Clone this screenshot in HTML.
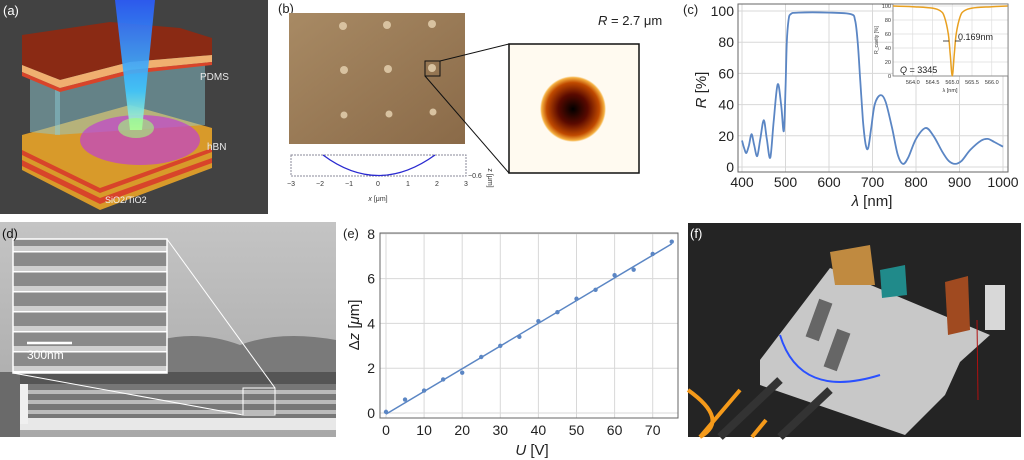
<!DOCTYPE html>
<html><head><meta charset="utf-8">
<style>
html,body{margin:0;padding:0;background:#fff;}
svg{display:block;font-family:"Liberation Sans",sans-serif;}
</style></head>
<body>
<svg id="fig" width="1024" height="460" viewBox="0 0 1024 460">
<defs>
<linearGradient id="photoB" x1="0" y1="0" x2="1" y2="1"><stop offset="0" stop-color="#a88a64"/><stop offset="1" stop-color="#8a6a48"/></linearGradient>
<radialGradient id="spot"><stop offset="0" stop-color="#000"/><stop offset="0.45" stop-color="#5a0a00"/><stop offset="0.8" stop-color="#c04a00"/><stop offset="0.95" stop-color="#f5b040"/><stop offset="1" stop-color="#fffaf0"/></radialGradient>
<linearGradient id="beam" x1="0" y1="0" x2="0" y2="1"><stop offset="0" stop-color="#2a5cff"/><stop offset="0.7" stop-color="#40c8ff"/><stop offset="1" stop-color="#c0ffc0"/></linearGradient>
<linearGradient id="semTop" x1="0" y1="0" x2="0" y2="1"><stop offset="0" stop-color="#c4c4c4"/><stop offset="1" stop-color="#a8a8a8"/></linearGradient>
<pattern id="stripes" width="10" height="10" patternUnits="userSpaceOnUse"><rect width="10" height="10" fill="#777"/><rect y="0" width="10" height="4" fill="#bbb"/></pattern>
<pattern id="stripes2" width="10" height="20" patternUnits="userSpaceOnUse"><rect width="10" height="20" fill="#8a8a8a"/><rect y="6" width="10" height="6" fill="#cfcfcf"/><rect y="11" width="10" height="1.5" fill="#fff"/></pattern>
</defs>

<!-- Panel a -->
<g>
<rect x="0" y="0" width="268" height="214" fill="#424242"/>
<polygon points="22,135 130,105 212,128 212,168 100,210 22,170" fill="#d89a2a"/>
<polygon points="22,160 100,198 212,158 212,163 100,204 22,166" fill="#d8442a"/>
<polygon points="22,150 100,188 212,148 212,152 100,193 22,155" fill="#d8442a"/>
<polygon points="30,75 60,78 60,135 30,132" fill="#8ec8d0" opacity="0.5"/>
<polygon points="55,70 205,40 205,125 55,135" fill="#8ed0dc" opacity="0.45"/>
<polygon points="22,35 110,22 180,28 212,38 212,55 130,62 60,80 22,65" fill="#8a2a14"/>
<polygon points="22,65 60,80 130,62 212,55 212,62 130,70 60,88 22,72" fill="#f0b070"/>
<polygon points="22,72 60,88 130,70 212,62 212,65 130,74 60,92 22,76" fill="#d8442a"/>
<ellipse cx="140" cy="140" rx="60" ry="25" fill="#c040d0" opacity="0.7"/>
<polygon points="115,0 155,0 142,130 130,130" fill="url(#beam)" opacity="0.9"/>
<ellipse cx="136" cy="128" rx="18" ry="10" fill="#9cff7a" opacity="0.6"/>
<text x="3" y="15" font-size="13" fill="#fff">(a)</text>
<text x="200" y="80" font-size="10" fill="#e8e8e8">PDMS</text>
<text x="207" y="150" font-size="10" fill="#e8e8e8">hBN</text>
<text x="105" y="203" font-size="9" fill="#f0f0f0">SiO2/TiO2</text>
</g>

<!-- Panel b -->
<g>
<text x="278" y="13" font-size="13" fill="#222">(b)</text>
<rect x="289" y="13" width="176" height="131" fill="url(#photoB)"/>
<g fill="#d8c2a0">
<circle cx="343" cy="26" r="4"/><circle cx="387" cy="25" r="4"/><circle cx="432" cy="24" r="4"/>
<circle cx="344" cy="70" r="4"/><circle cx="388" cy="69" r="4"/><circle cx="432" cy="68" r="4"/>
<circle cx="344" cy="115" r="3.5"/><circle cx="389" cy="114" r="3.5"/><circle cx="433" cy="112" r="3.5"/>
</g>
<rect x="425" y="61" width="15" height="15" fill="none" stroke="#111" stroke-width="1"/>
<line x1="440" y1="61" x2="509" y2="44" stroke="#111"/>
<line x1="425" y1="76" x2="509" y2="173" stroke="#111"/>
<rect x="509" y="44" width="130" height="129" fill="#fffaf0" stroke="#111" stroke-width="1.5"/>
<circle cx="573" cy="109" r="33" fill="url(#spot)"/>
<text x="598" y="25" font-size="13" fill="#222"><tspan font-style="italic">R</tspan> = 2.7 μm</text>
<rect x="291" y="155" width="175" height="21" fill="#fff" stroke="#889" stroke-dasharray="2,1"/>
<path d="M323,155 Q378,196 435,155" fill="none" stroke="#2a2ad0" stroke-width="1.3"/>
<text x="468" y="178" font-size="7" fill="#333">−0.6</text>
<text x="0" y="0" font-size="7" fill="#333" text-anchor="middle" transform="translate(488,178) rotate(90)">z [μm]</text>
<g font-size="7" fill="#333" text-anchor="middle">
<text x="291" y="186">−3</text><text x="320" y="186">−2</text><text x="349" y="186">−1</text><text x="378" y="186">0</text><text x="408" y="186">1</text><text x="437" y="186">2</text><text x="466" y="186">3</text>
</g>
<text x="378" y="201" font-size="7" fill="#333" text-anchor="middle"><tspan font-style="italic">x</tspan> [μm]</text>
</g>

<!-- Panel c chart -->
<g id="chartC"></g>

<!-- Panel d -->
<g>
<rect x="0" y="222" width="336" height="215" fill="url(#semTop)"/>
<path d="M160,340 Q200,330 240,345 Q280,330 336,340 L336,372 L160,372 Z" fill="#7a7a7a"/>
<rect x="0" y="372" width="336" height="12" fill="#555"/>
<rect x="0" y="384" width="336" height="40" fill="url(#stripes)"/>
<rect x="0" y="418" width="336" height="12" fill="#e8e8e8"/>
<rect x="0" y="372" width="20" height="65" fill="#6a6a6a"/>
<rect x="20" y="384" width="8" height="40" fill="#f0f0f0"/>
<rect x="13" y="239" width="154" height="134" fill="url(#stripes2)" stroke="#fff" stroke-width="1.5"/>
<line x1="27" y1="343" x2="72" y2="343" stroke="#fff" stroke-width="2.5"/>
<text x="27" y="359" font-size="12" fill="#fff">300nm</text>
<rect x="243" y="388" width="32" height="27" fill="none" stroke="#fff" stroke-width="1"/>
<line x1="167" y1="239" x2="275" y2="388" stroke="#fff"/>
<line x1="13" y1="373" x2="243" y2="415" stroke="#fff"/>
<text x="2" y="238" font-size="13" fill="#111">(d)</text>
</g>

<!-- Panel e chart -->
<g id="chartE"></g>

<!-- Panel f -->
<g>
<rect x="688" y="223" width="333" height="214" fill="#242424"/>
<polygon points="760,360 830,268 990,335 960,362 945,395 905,435 760,385" fill="#c8c8c8"/>
<polygon points="830,252 870,245 875,285 835,285" fill="#c08a40"/>
<polygon points="880,270 905,265 907,295 882,298" fill="#208a8a"/>
<polygon points="945,282 968,276 970,330 948,335" fill="#a04a20"/>
<rect x="985" y="285" width="20" height="45" fill="#d8d8d8"/>
<path d="M780,335 Q800,400 880,375" fill="none" stroke="#2a50ff" stroke-width="2"/>
<rect x="812" y="300" width="14" height="40" fill="#666" transform="rotate(20 819 320)"/>
<rect x="830" y="330" width="14" height="40" fill="#666" transform="rotate(20 837 350)"/>
<line x1="780" y1="380" x2="720" y2="437" stroke="#333" stroke-width="8"/>
<line x1="830" y1="390" x2="780" y2="437" stroke="#333" stroke-width="8"/>
<path d="M688,390 Q730,420 700,437" fill="none" stroke="#f59a1a" stroke-width="4"/>
<line x1="740" y1="390" x2="700" y2="437" stroke="#f59a1a" stroke-width="4"/>
<line x1="766" y1="420" x2="752" y2="437" stroke="#f59a1a" stroke-width="4"/>
<line x1="977" y1="320" x2="978" y2="400" stroke="#b01010" stroke-width="1"/>
<text x="690" y="238" font-size="13" fill="#fff">(f)</text>
</g>
</svg>

<script>
// ---------- Panel c data ----------
const wavelengths = [400,405,410,416,422,428,435,442,450,457,465,473,482,490,496,500,503,507,512,530,600,650,660,666,672,678,684,690,697,705,718,730,745,758,770,782,800,822,840,860,875,890,905,925,950,965,980,1000];
const reflectance = [17,12,9,14,21,14,7,18,30,18,6,30,53,40,23,50,80,94,98,99,99,98,94,80,55,30,15,12,25,40,46,42,25,8,2,6,18,25,20,10,4,2,4,11,17,18,16,13];
const cXTicks = [400,500,600,700,800,900,1000];
const cYTicks = [0,20,40,60,80,100];
const insetLambda = [563.5,564.0,564.5,564.7,564.8,564.9,564.95,565.0,565.05,565.1,565.2,565.3,565.5,566.0,566.4];
const insetR = [100,99,97,93,85,60,30,0,30,60,85,93,97,99,100];
const insetXTicks = ["564.0","564.5","565.0","565.5","566.0"];
const insetYTicks = [0,20,40,60,80,100];
// ---------- Panel e data ----------
const voltages = [0,5,10,15,20,25,30,35,40,45,50,55,60,65,70,75];
const displacement = [0.05,0.6,1.0,1.5,1.8,2.5,3.0,3.4,4.1,4.5,5.1,5.5,6.15,6.4,7.1,7.65];
const fitU = [0,75];
const fitZ = [-0.05,7.55];
const eXTicks = [0,10,20,30,40,50,60,70];
const eYTicks = [0,2,4,6,8];

const NS = "http://www.w3.org/2000/svg";
function mk(parent, tag, attrs, txt){
  const e = document.createElementNS(NS, tag);
  for (const k in attrs) e.setAttribute(k, attrs[k]);
  if (txt !== undefined) e.textContent = txt;
  parent.appendChild(e);
  return e;
}
function smoothPath(pts){
  let d = "M" + pts[0][0].toFixed(1) + "," + pts[0][1].toFixed(1);
  for (let i=0;i<pts.length-1;i++){
    const p0=pts[Math.max(0,i-1)], p1=pts[i], p2=pts[i+1], p3=pts[Math.min(pts.length-1,i+2)];
    const c1x=p1[0]+(p2[0]-p0[0])/6, c1y=p1[1]+(p2[1]-p0[1])/6;
    const c2x=p2[0]-(p3[0]-p1[0])/6, c2y=p2[1]-(p3[1]-p1[1])/6;
    d += " C"+c1x.toFixed(1)+","+c1y.toFixed(1)+" "+c2x.toFixed(1)+","+c2y.toFixed(1)+" "+p2[0].toFixed(1)+","+p2[1].toFixed(1);
  }
  return d;
}

// ---------- Draw chart c ----------
(function(){
  const g = document.getElementById('chartC');
  const L=738,R=1008,T=4,B=172;
  const xs = v => 742 + (v-400)*(261/600);
  const ys = v => 167 - v*1.56;
  mk(g,'rect',{x:L,y:T,width:R-L,height:B-T,fill:'#fff'});
  cXTicks.forEach(t=>{
    const gl = mk(g,'line',{x1:xs(t),x2:xs(t),y1:T,y2:B,stroke:'#d8d8d8','stroke-width':1});
    
    
    const lb = mk(g,'text',{x:xs(t),y:187,'font-size':14,'text-anchor':'middle',fill:'#222'},t);
    
    
  });
  cYTicks.forEach(t=>{
    const gl = mk(g,'line',{x1:L,x2:R,y1:ys(t),y2:ys(t),stroke:'#d8d8d8','stroke-width':1});
    
    
    const lb = mk(g,'text',{x:734,y:ys(t)+5,'font-size':14,'text-anchor':'end',fill:'#222'},t);
    
    
  });
  const fr = mk(g,'rect',{x:L,y:T,width:R-L,height:B-T,fill:'none',stroke:'#666','stroke-width':1});
  
  
  const pts = wavelengths.map((w,i)=>[xs(w),ys(reflectance[i])]);
  const ln = mk(g,'path',{d:smoothPath(pts),fill:'none',stroke:'#5b86c4','stroke-width':1.8});
  
  
  const yt = mk(g,'text',{x:0,y:0,'font-size':15,'text-anchor':'middle',fill:'#222',transform:'translate(706,90) rotate(-90)'});
  
  
  mk(yt,'tspan',{'font-style':'italic'},'R');
  mk(yt,'tspan',{},' [%]');
  const xt = mk(g,'text',{x:872,y:206,'font-size':15,'text-anchor':'middle',fill:'#222'});
  
  
  mk(xt,'tspan',{'font-style':'italic'},'λ');
  mk(xt,'tspan',{},' [nm]');
  const pl = mk(g,'text',{x:683,y:14,'font-size':13,fill:'#222'},'(c)');
  
  

  // inset
  const IL=893,IR=1008,IT=4,IB=76;
  const ix = v => 893 + (v-563.5)*39.5;
  const iy = v => 76 - v*0.70;
  const ig = mk(g,'g',{});
  
  
  mk(ig,'rect',{x:IL,y:IT,width:IR-IL,height:IB-IT,fill:'#fff'});
  insetXTicks.forEach(t=>{
    const v = parseFloat(t);
    mk(ig,'line',{x1:ix(v),x2:ix(v),y1:IT,y2:IB,stroke:'#ddd','stroke-width':0.7});
    const lb = mk(ig,'text',{x:ix(v),y:84,'font-size':5.5,'text-anchor':'middle',fill:'#333'},t);
    
    
  });
  insetYTicks.forEach(t=>{
    mk(ig,'line',{x1:IL,x2:IR,y1:iy(t),y2:iy(t),stroke:'#ddd','stroke-width':0.7});
    const lb = mk(ig,'text',{x:IL-2,y:iy(t)+2,'font-size':5.5,'text-anchor':'end',fill:'#333'},t);
    
    
  });
  mk(ig,'rect',{x:IL,y:IT,width:IR-IL,height:IB-IT,fill:'none',stroke:'#777','stroke-width':0.8});
  const ipts = insetLambda.map((w,i)=>[ix(w),iy(insetR[i])]);
  const il = mk(ig,'path',{d:smoothPath(ipts),fill:'none',stroke:'#e8a020','stroke-width':1.5});
  
  
  mk(ig,'text',{x:950,y:92,'font-size':5.5,'text-anchor':'middle',fill:'#333'},'λ [nm]');
  mk(ig,'text',{x:0,y:0,'font-size':5,'text-anchor':'middle',fill:'#333',transform:'translate(878,40) rotate(-90)'},'R_cavity [%]');
  mk(ig,'line',{x1:943,x2:949,y1:41,y2:41,stroke:'#222','stroke-width':0.8});
  mk(ig,'line',{x1:955,x2:961,y1:41,y2:41,stroke:'#222','stroke-width':0.8});
  const fw = mk(ig,'text',{x:958,y:40,'font-size':9,fill:'#222'},'0.169nm');
  
  
  const q = mk(ig,'text',{x:900,y:73,'font-size':9,fill:'#222'});
  
  
  mk(q,'tspan',{'font-style':'italic'},'Q');
  mk(q,'tspan',{},' = 3345');
})();

// ---------- Draw chart e ----------
(function(){
  const g = document.getElementById('chartE');
  const L=380,R=678,T=233,B=418;
  const xs = v => 386 + v*3.81;
  const ys = v => 413 - v*22.4;
  mk(g,'rect',{x:L,y:T,width:R-L,height:B-T,fill:'#fff'});
  eXTicks.forEach(t=>{
    const gl = mk(g,'line',{x1:xs(t),x2:xs(t),y1:T,y2:B,stroke:'#d8d8d8','stroke-width':1});
    
    
    const lb = mk(g,'text',{x:xs(t),y:435,'font-size':14,'text-anchor':'middle',fill:'#222'},t);
    
    
  });
  eYTicks.forEach(t=>{
    const gl = mk(g,'line',{x1:L,x2:R,y1:ys(t),y2:ys(t),stroke:'#d8d8d8','stroke-width':1});
    
    
    const lb = mk(g,'text',{x:375,y:ys(t)+5,'font-size':14,'text-anchor':'end',fill:'#222'},t);
    
    
  });
  const fr = mk(g,'rect',{x:L,y:T,width:R-L,height:B-T,fill:'none',stroke:'#666','stroke-width':1});
  
  
  const fl = mk(g,'line',{x1:xs(fitU[0]),y1:ys(fitZ[0]),x2:xs(fitU[1]),y2:ys(fitZ[1]),stroke:'#5b86c4','stroke-width':1.5});
  
  
  voltages.forEach((u,i)=>{
    const c = mk(g,'circle',{cx:xs(u),cy:ys(displacement[i]),r:2.2,fill:'#5b86c4'});
    
    
  });
  const yt = mk(g,'text',{x:0,y:0,'font-size':15,'text-anchor':'middle',fill:'#222',transform:'translate(359,325) rotate(-90)'});
  
  
  mk(yt,'tspan',{},'Δ');
  mk(yt,'tspan',{'font-style':'italic'},'z');
  mk(yt,'tspan',{},' [');
  mk(yt,'tspan',{'font-style':'italic'},'μ');
  mk(yt,'tspan',{},'m]');
  const xt = mk(g,'text',{x:532,y:455,'font-size':15,'text-anchor':'middle',fill:'#222'});
  
  
  mk(xt,'tspan',{'font-style':'italic'},'U');
  mk(xt,'tspan',{},' [V]');
  const pl = mk(g,'text',{x:343,y:238,'font-size':13,fill:'#222'},'(e)');
  
  
})();
</script>
</body></html>
